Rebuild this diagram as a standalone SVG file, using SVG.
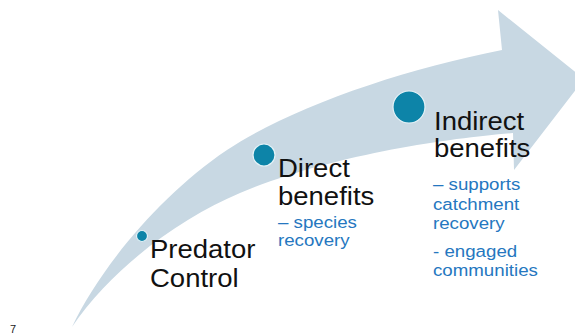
<svg xmlns="http://www.w3.org/2000/svg" width="575" height="335" viewBox="0 0 575 335">
  <style>
    .main { font-family: "Liberation Sans", Arial, sans-serif; font-size: 25px; fill: #111111; }
    .sub { font-family: "Liberation Sans", Arial, sans-serif; font-size: 17px; fill: #2577c0; }
    .dot { fill: #0d84a8; stroke: #e4f2f7; stroke-width: 1.2; }
    .pg { font-family: "Liberation Sans", Arial, sans-serif; font-size: 11px; fill: #222222; }
  </style>
  <rect width="575" height="335" fill="#ffffff"/>
  <g id="connectors">
    <path id="arrow" fill="#c8d8e3" d="M72,327 C100,268 160,195 227,150 C290,108 400,70 502,50 L498,10 L584,79 L514,170 L513,133 C450,138 330,155 240,193 C180,218 112,268 72,327 Z"/>
  </g>
  <g id="node-predator">
    <circle class="dot" cx="142" cy="236" r="5.5"/>
    <text class="main" transform="translate(150,0) scale(1.1,1)"><tspan x="0" y="258">Predator</tspan><tspan x="0" y="287">Control</tspan></text>
  </g>
  <g id="node-direct">
    <circle class="dot" cx="264" cy="155" r="11"/>
    <text class="main" transform="translate(278,0) scale(1.1,1)"><tspan x="0" y="177">Direct</tspan><tspan x="0" y="205">benefits</tspan></text>
    <text class="sub" transform="translate(278,0) scale(1.1,1)"><tspan x="0" y="228">– species</tspan><tspan x="0" y="246">recovery</tspan></text>
  </g>
  <g id="node-indirect">
    <circle class="dot" cx="409" cy="107" r="16"/>
    <text class="main" transform="translate(434,0) scale(1.1,1)"><tspan x="0" y="130">Indirect</tspan><tspan x="0" y="157">benefits</tspan></text>
    <text class="sub" transform="translate(433,0) scale(1.1,1)"><tspan x="0" y="190">– supports</tspan><tspan x="0" y="210">catchment</tspan><tspan x="0" y="229">recovery</tspan><tspan x="0" y="257">- engaged</tspan><tspan x="0" y="276">communities</tspan></text>
  </g>
  <text class="pg" x="10" y="333">7</text>
</svg>
